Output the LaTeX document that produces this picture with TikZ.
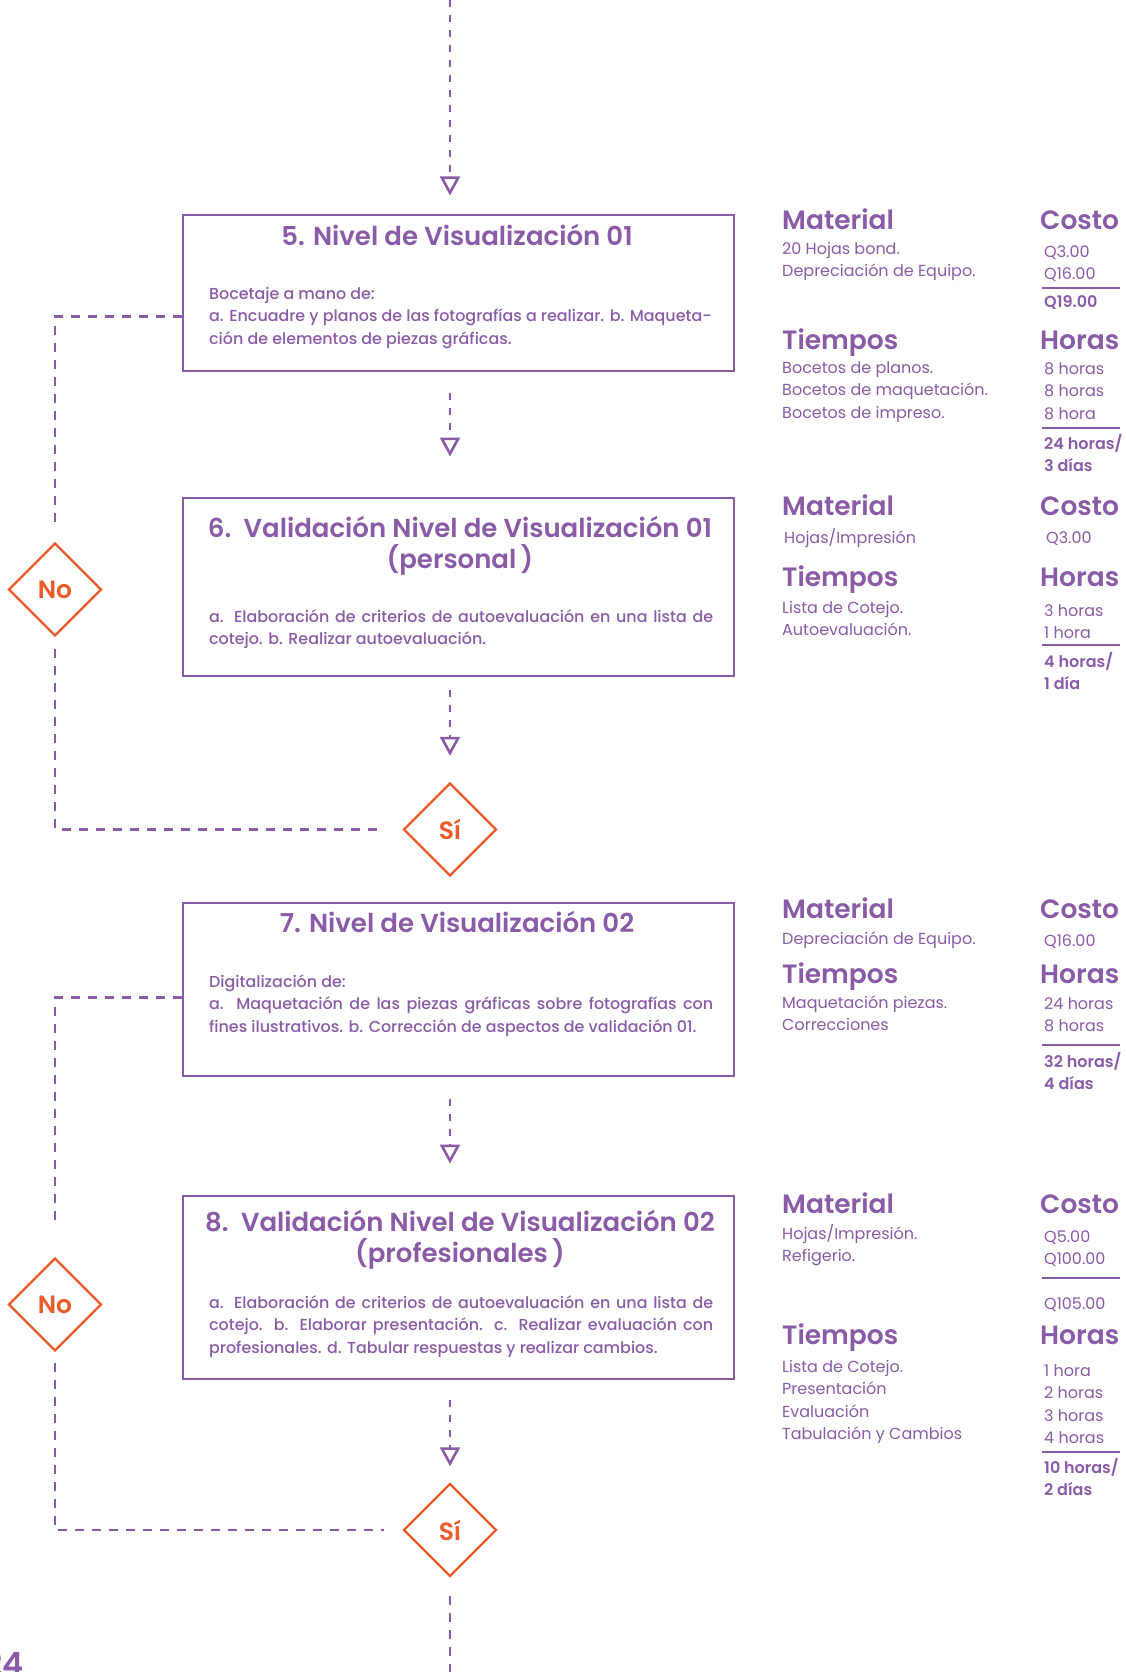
\documentclass[tikz,border=0pt]{standalone}
\usepackage{fontspec}
\setmainfont{Poppins}[BoldFont={Poppins SemiBold}]
\newfontfamily\mediumfont{Poppins Medium}
\usetikzlibrary{arrows.meta, positioning, shapes.geometric, calc}
\definecolor{CPurple}{HTML}{8A5BA7}
\definecolor{COrange}{HTML}{EC5B2B}
\newcommand{\lineList}[5]{%
    % #1 = x, #2 = first baseline, #3 = style, #4 = name, #5 = lines
    \foreach \txt [count=\k] in {#5} {
        \node[#3] (#4-\k) at (#1, {#2+22.5*(\k-1)}) {\txt};
    }
}

\begin{document}
\begin{tikzpicture}[x=1pt, y=-1pt]
    \tikzset{
        stage/.style={draw=CPurple, line width=2.8pt, anchor=north west, minimum width=551pt, inner sep=0pt},
        decision/.style={diamond, aspect=1, draw=COrange, line width=2.4pt, minimum width=93pt, minimum height=93pt, inner sep=0pt, text=COrange, font=\bfseries\fontsize{25}{25}\selectfont},
        flow/.style={CPurple, line width=2.6pt, dash pattern=on 7pt off 8pt, -{Triangle[open, length=19pt, width=20pt]}},
        backflow/.style={CPurple, line width=2.6pt, dash pattern=on 9pt off 8pt},
        stitle/.style={text=CPurple, font=\bfseries\fontsize{26}{30}\selectfont, anchor=base, inner sep=0pt},
        sbody/.style={text=CPurple, font=\mediumfont\fontsize{15.9}{18}\selectfont, anchor=base west, inner sep=0pt},
        head/.style={text=CPurple, font=\bfseries\fontsize{26.5}{30}\selectfont, anchor=base west, inner sep=0pt},
        item/.style={text=CPurple, font=\fontsize{16}{19}\selectfont, anchor=base west, inner sep=0pt},
        total/.style={item, font=\bfseries\fontsize{16}{19}\selectfont},
        sumrule/.style={CPurple, line width=1.3pt}
    }
    \path[use as bounding box, fill=white] (0,0) rectangle (1126,1672);

    % --- 1. STAGES ---
    \node[stage, minimum height=156pt] (box5) at (181.5,213.5) {};
    \node[stitle] (title5) at (457,245) {5. Nivel de Visualización 01};
    \lineList{209}{299}{sbody}{body5}{Bocetaje a mano de:, a. Encuadre y planos de las fotografías a realizar. b. Maqueta-, ción de  elementos de piezas gráficas.}

    \node[stage, minimum height=178pt] (box6) at (181.5,496.5) {};
    \node[stitle] (title6) at (460,537) {6.\ \ Validación Nivel de Visualización 01};
    \node[stitle] (title6b) at (460,568) {(personal\,)};
    \lineList{209}{622}{sbody}{body6}{{\makebox[504pt][s]{a. Elaboración de criterios de autoevaluación en una lista de}}, cotejo. b. Realizar autoevaluación.}

    \node[stage, minimum height=173pt] (box7) at (181.5,901.5) {};
    \node[stitle] (title7) at (457,932) {7. Nivel de Visualización 02};
    \lineList{209}{987}{sbody}{body7}{Digitalización de:, {\makebox[504pt][s]{a. Maquetación de las piezas gráficas sobre fotografías con}}, fines ilustrativos. b. Corrección de aspectos de validación 01.}

    \node[stage, minimum height=183pt] (box8) at (181.5,1194.5) {};
    \node[stitle] (title8) at (460,1231) {8.\ \ Validación Nivel de Visualización 02};
    \node[stitle] (title8b) at (460,1262) {(profesionales\,)};
    \lineList{209}{1308}{sbody}{body8}{{\makebox[504pt][s]{a. Elaboración de criterios de autoevaluación en una lista de}}, {\makebox[504pt][s]{cotejo. b. Elaborar presentación. c. Realizar evaluación con}}, profesionales. d. Tabular respuestas y realizar cambios.}

    % --- 2. DECISIONS ---
    \node[decision] (no1) at (55,589.5) {No};
    \node[decision] (si1) at (450,829.5) {Sí};
    \node[decision] (no2) at (55,1304.5) {No};
    \node[decision] (si2) at (450,1530) {Sí};

    % --- 3. CONNECTORS ---
    \coordinate (top) at (450,0);
    \coordinate (bottom) at (450,1672);
    \draw[flow, shorten >=18pt] (top) -- (box5.north -| top);
    \draw[flow, shorten <=21pt, shorten >=40pt] (box5.south -| top) -- (box6.north -| top);
    \draw[flow, shorten <=13pt, shorten >=26pt] (box6.south -| top) -- (si1.north);
    \draw[flow, shorten <=22pt, shorten >=31pt] (box7.south -| top) -- (box8.north -| top);
    \draw[flow, shorten <=20pt, shorten >=16pt] (box8.south -| top) -- (si2.north);
    \draw[backflow, shorten <=18pt] (si2.south) -- (bottom);

    \draw[backflow, shorten >=20pt] ([yshift=-23.5pt]box5.west) -| (no1.north);
    \draw[backflow, shorten <=12pt, shorten >=18pt] (no1.south) |- (si1.west);
    \draw[backflow, shorten >=30pt] ([yshift=-8pt]box7.west) -| (no2.north);
    \draw[backflow, shorten <=11pt, shorten >=18pt] (no2.south) |- (si2.west);

    % --- 4. MATERIAL / TIME TABLES ---
    % Stage 5
    \node[head] (mat5) at (782,229) {Material};
    \node[head] (cos5) at (1040,229) {Costo};
    \lineList{782}{254}{item}{m5}{20 Hojas bond., Depreciación de Equipo.}
    \lineList{1044}{257}{item}{c5}{Q3.00, Q16.00}
    \draw[sumrule] (1042,288) -- (1120,288);
    \node[total] (c5sum) at (1044,307) {Q19.00};
    \node[head] (tie5) at (782,349) {Tiempos};
    \node[head] (hor5) at (1040,349) {Horas};
    \lineList{782}{373}{item}{t5}{Bocetos de planos., Bocetos de maquetación., Bocetos de impreso.}
    \lineList{1044}{374}{item}{h5}{8 horas, 8 horas, 8 hora}
    \draw[sumrule] (1042,428) -- (1120,428);
    \lineList{1044}{449}{total}{h5sum}{24 horas/, 3 días}

    % Stage 6
    \node[head] (mat6) at (782,515) {Material};
    \node[head] (cos6) at (1040,515) {Costo};
    \node[item] (m6) at (784,543) {Hojas/Impresión};
    \node[item] (c6) at (1046,543) {Q3.00};
    \node[head] (tie6) at (782,586) {Tiempos};
    \node[head] (hor6) at (1040,586) {Horas};
    \lineList{782}{613}{item}{t6}{Lista de Cotejo., Autoevaluación.}
    \lineList{1044}{616}{item}{h6}{3 horas, 1 hora}
    \draw[sumrule] (1042,645) -- (1120,645);
    \lineList{1044}{667}{total}{h6sum}{4 horas/, 1 día}

    % Stage 7
    \node[head] (mat7) at (782,918) {Material};
    \node[head] (cos7) at (1040,918) {Costo};
    \node[item] (m7) at (782,944) {Depreciación de Equipo.};
    \node[item] (c7) at (1044,946) {Q16.00};
    \node[head] (tie7) at (782,983) {Tiempos};
    \node[head] (hor7) at (1040,983) {Horas};
    \lineList{782}{1008}{item}{t7}{Maquetación piezas., Correcciones}
    \lineList{1044}{1009}{item}{h7}{24 horas, 8 horas}
    \draw[sumrule] (1042,1045) -- (1120,1045);
    \lineList{1044}{1067}{total}{h7sum}{32 horas/, 4 días}

    % Stage 8
    \node[head] (mat8) at (782,1213) {Material};
    \node[head] (cos8) at (1040,1213) {Costo};
    \lineList{782}{1239}{item}{m8}{Hojas/Impresión., Refigerio.}
    \lineList{1044}{1242}{item}{c8}{Q5.00, Q100.00}
    \draw[sumrule] (1042,1278) -- (1120,1278);
    \node[item] (c8sum) at (1044,1309) {Q105.00};
    \node[head] (tie8) at (782,1344) {Tiempos};
    \node[head] (hor8) at (1040,1344) {Horas};
    \lineList{782}{1372}{item}{t8}{Lista de Cotejo., Presentación, Evaluación, Tabulación y Cambios}
    \lineList{1044}{1376}{item}{h8}{1 hora, 2 horas, 3 horas, 4 horas}
    \draw[sumrule] (1042,1452) -- (1120,1452);
    \lineList{1044}{1473}{total}{h8sum}{10 horas/, 2 días}

    % page number
    \node[anchor=base east, inner sep=0pt, text=CPurple, font=\bfseries\fontsize{32}{32}\selectfont] (pagenum) at (24,1675) {24};

\end{tikzpicture}
\end{document}
